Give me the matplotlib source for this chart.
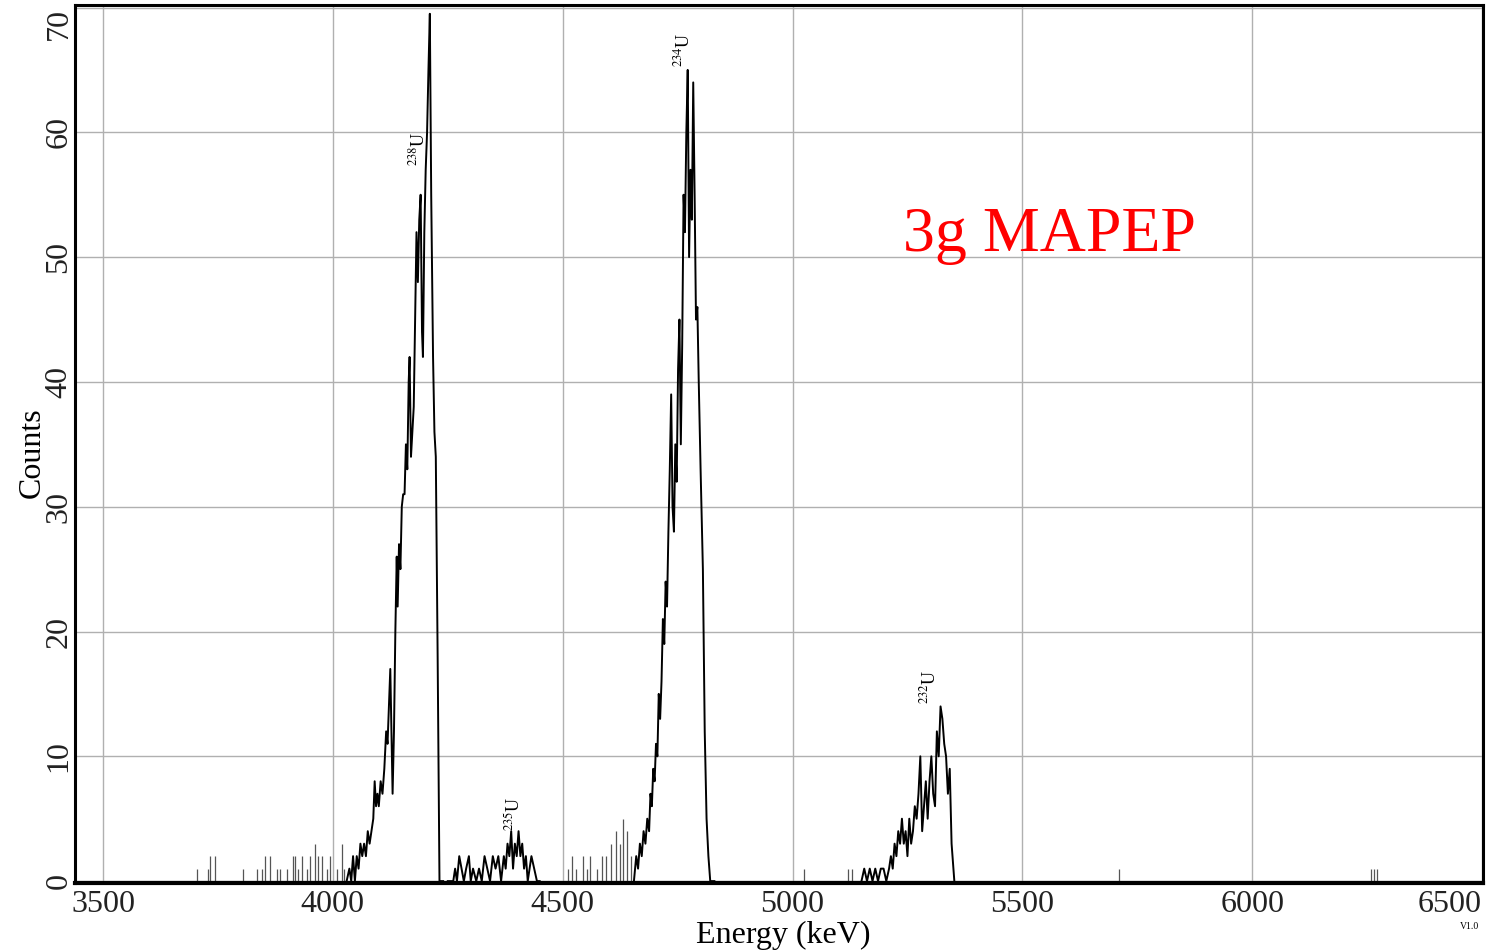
import matplotlib
matplotlib.use('Agg')
import matplotlib.pyplot as plt

plt.rcParams['font.family'] = ['Liberation Serif', 'DejaVu Serif']
plt.rcParams['mathtext.fontset'] = 'stix'

# ------------------------------------------------
#           SPECTRUM DATA  (energy keV, counts)
# ------------------------------------------------

# 238U peak
u238_e = [4030, 4036, 4040, 4044, 4048, 4052, 4056, 4060, 4064, 4068, 4072,
          4076, 4080, 4084, 4088, 4091, 4094, 4097, 4100, 4104, 4108, 4112,
          4116, 4119, 4122, 4125, 4128, 4130, 4133, 4136, 4139, 4141, 4144,
          4147, 4150, 4153, 4156, 4159, 4162, 4165, 4167, 4170, 4173, 4176,
          4179, 4182, 4185, 4188, 4191, 4194, 4196, 4199, 4202, 4205, 4208,
          4211, 4214, 4218, 4221, 4224, 4228, 4232, 4240]
u238_c = [0, 1, 0, 2, 0, 2, 1, 3, 2, 3, 2,
          4, 3, 4, 5, 8, 6, 7, 6, 8, 7, 9,
          12, 11, 14, 17, 11, 7, 12, 20, 26, 22, 27,
          25, 30, 31, 31, 35, 33, 40, 42, 34, 36, 38,
          45, 52, 48, 53, 55, 44, 42, 52, 57, 60, 65,
          69.5, 55, 42, 36, 34, 18, 0, 0]

# 235U region
u235_e = [4250, 4262, 4266, 4270, 4275, 4280, 4285, 4290, 4296, 4300, 4305,
          4312, 4318, 4324, 4330, 4336, 4342, 4348, 4354, 4360, 4366, 4372,
          4376, 4380, 4384, 4388, 4392, 4396, 4400, 4404, 4408, 4412, 4416,
          4420, 4424, 4428, 4432, 4438, 4444, 4450]
u235_c = [0, 0, 1, 0, 2, 1, 0, 1, 2, 0, 1,
          0, 1, 0, 2, 1, 0, 2, 1, 2, 0, 2,
          1, 3, 2, 4, 1, 3, 2, 4, 2, 3, 1,
          2, 0, 1, 2, 1, 0, 0]

# 234U peak
u234_e = [4655, 4660, 4664, 4668, 4672, 4676, 4680, 4684, 4688, 4691, 4694,
          4697, 4700, 4703, 4706, 4709, 4712, 4715, 4718, 4721, 4724, 4727,
          4730, 4733, 4736, 4739, 4742, 4745, 4748, 4751, 4754, 4757, 4760,
          4763, 4766, 4769, 4772, 4775, 4778, 4781, 4784, 4787, 4790, 4793,
          4796, 4800, 4805, 4809, 4813, 4817, 4821, 4830]
u234_c = [0, 2, 1, 3, 2, 4, 3, 5, 4, 7, 6,
          9, 8, 11, 10, 15, 13, 16, 21, 19, 24, 22,
          28, 33, 39, 30, 28, 35, 32, 41, 45, 35, 43,
          55, 52, 60, 65, 50, 57, 53, 64, 55, 45, 46,
          40, 33, 25, 12, 5, 2, 0, 0]

# 232U peak
u232_e = [5150, 5156, 5162, 5168, 5174, 5180, 5186, 5192, 5198, 5204, 5210,
          5214, 5218, 5222, 5226, 5230, 5234, 5238, 5242, 5246, 5250, 5254,
          5258, 5262, 5266, 5270, 5274, 5278, 5282, 5286, 5290, 5294, 5298,
          5302, 5306, 5310, 5314, 5318, 5322, 5326, 5330, 5334, 5338, 5342,
          5346, 5352]
u232_c = [0, 1, 0, 1, 0, 1, 0, 1, 1, 0, 1,
          2, 1, 3, 2, 4, 3, 5, 3, 4, 2, 5,
          3, 4, 6, 5, 7, 10, 4, 6, 8, 5, 8,
          10, 7, 6, 12, 10, 14, 13, 11, 10, 7, 9,
          3, 0]

# isolated background counts (single channels)
bg_e = [3704, 3728, 3732, 3743, 3804, 3835, 3846, 3852, 3863, 3878, 3885,
        3900, 3913, 3917, 3925, 3932, 3943, 3950, 3961, 3968, 3976, 3987,
        3994, 4008, 4019, 4025,
        4511, 4520, 4530, 4545, 4552, 4560, 4575, 4585, 4595, 4605, 4617,
        4625, 4632, 4639, 4648,
        5026, 5120, 5130, 5711, 6259, 6265, 6272]
bg_c = [1, 1, 2, 2, 1, 1, 1, 2, 2, 1, 1,
        1, 2, 2, 1, 2, 1, 2, 3, 2, 2, 1,
        2, 1, 3, 1,
        1, 2, 1, 2, 1, 2, 1, 2, 2, 3, 4,
        3, 5, 4, 2,
        1, 1, 1, 1, 1, 1, 1]

labels = [r'$^{238}$U', r'$^{234}$U', r'$^{235}$U', r'$^{232}$U']
label_e = [4186, 4763, 4393, 5298]
label_c = [58.7, 66.6, 5.4, 15.6]

# ------------------------------------------------
#           PLOT
# ------------------------------------------------

fig = plt.figure(figsize=(14.87, 9.52), dpi=100)
ax = fig.add_axes([0.0504, 0.0725, 0.9469, 0.9222])

ax.vlines(bg_e, 0, bg_c, color='#555555', lw=0.9)
for xe, yc in [(u238_e, u238_c), (u235_e, u235_c), (u234_e, u234_c), (u232_e, u232_c)]:
    ax.plot(xe, yc, color='black', lw=1.4)

for lab, e, c in zip(labels, label_e, label_c):
    ax.text(e, c, lab, rotation=90, ha='center', va='center', fontsize=13)

ax.text(0.588, 0.737, '3g MAPEP', transform=ax.transAxes, color='red',
        fontsize=46, ha='left', va='center')

ax.set_xlim(3439, 6502)
ax.set_ylim(-0.15, 70.2)
ax.set_xticks([3500, 4000, 4500, 5000, 5500, 6000, 6500])
ax.set_yticks([0, 10, 20, 30, 40, 50, 60, 70])
ax.grid(True, color='#b0b0b0', lw=1.0)
ax.set_axisbelow(True)
ax.tick_params(length=0, labelsize=23, colors='#222222')
ax.tick_params(axis='x', pad=5)
ax.tick_params(axis='y', pad=1)
for t in ax.get_yticklabels():
    t.set_rotation(90)
    t.set_va('center')
ax.get_yticklabels()[-1].set_va('top')
ax.get_xticklabels()[-1].set_ha('right')

for s in ['left', 'right', 'top']:
    ax.spines[s].set_linewidth(2.2)
ax.spines['bottom'].set_linewidth(3.0)

ax.set_xlabel('Energy (keV)', fontsize=23)
ax.xaxis.set_label_coords(0.503, -0.043)
ax.set_ylabel('Counts', fontsize=23)
ax.yaxis.set_label_coords(-0.020, 0.49)
fig.text(0.9885, 0.024, 'V1.0', fontsize=7, ha='center')

fig.savefig('out.png', dpi=100)
